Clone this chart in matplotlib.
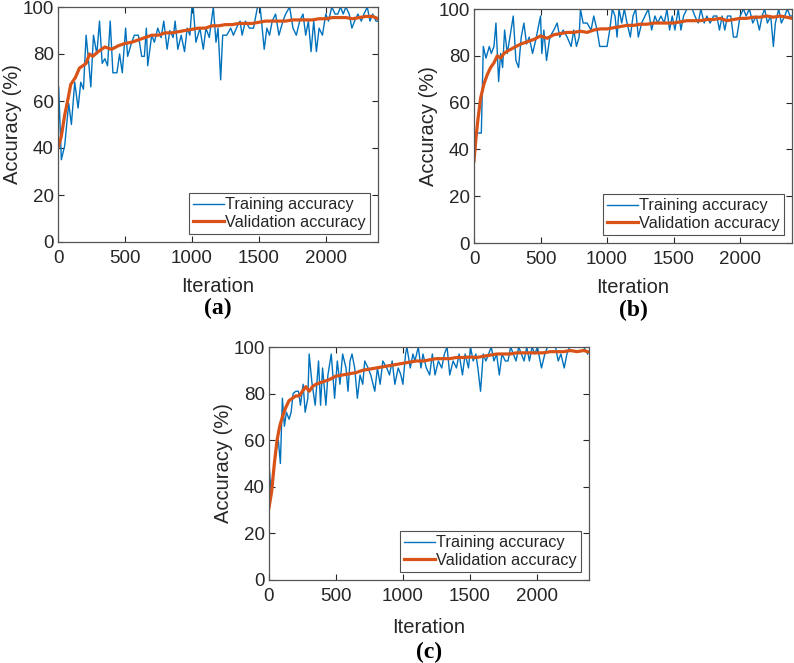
import matplotlib
matplotlib.use("Agg")
import matplotlib.pyplot as plt

# ---------------- data ----------------
xticks = [0, 500, 1000, 1500, 2000]
yticks = [0, 20, 40, 60, 80, 100]
x_max = 2390

# (a)
train_a_iter = [0, 5, 25, 50, 80, 100, 125, 150, 170, 190, 210, 230, 245, 265, 290, 310, 330, 350, 370,
                390, 410, 440, 460, 480, 505, 520, 545, 570, 600, 625, 645, 660, 670, 700, 720, 745,
                770, 790, 815, 835, 860, 875, 895, 920, 945, 965, 985, 1000, 1010, 1030, 1060, 1085,
                1105, 1130, 1160, 1180, 1195, 1215, 1230, 1260, 1290, 1310, 1340, 1360, 1375, 1400,
                1430, 1460, 1490, 1510, 1540, 1560, 1580, 1600, 1625, 1650, 1680, 1700, 1730, 1755,
                1780, 1805, 1830, 1850, 1870, 1890, 1910, 1930, 1950, 1975, 2000, 2020, 2045, 2070,
                2090, 2110, 2130, 2150, 2175, 2195, 2215, 2240, 2265, 2285, 2310, 2330, 2350, 2375, 2390]
train_a_acc = [35, 66, 35, 41, 59, 50, 68, 57, 68, 65, 88, 76, 66, 88, 80, 94, 76, 78, 75,
               94, 72, 72, 80, 72, 91, 79, 84, 88, 88, 79, 79, 91, 75, 88, 85, 91,
               87, 94, 82, 90, 87, 94, 82, 88, 81, 91, 88, 100, 100, 85, 91, 82,
               91, 87, 100, 85, 91, 69, 88, 88, 91, 88, 92, 94, 88, 94,
               91, 91, 100, 100, 82, 91, 88, 94, 97, 88, 94, 97, 100, 91,
               88, 94, 97, 88, 94, 81, 94, 81, 91, 88, 97, 94, 100, 97,
               97, 100, 97, 100, 97, 91, 94, 97, 94, 97, 100, 94, 97, 94, 94]
val_a_iter = [0, 25, 50, 75, 95, 130, 160, 210, 235, 260, 300, 350, 400, 450, 500, 550, 600, 650, 700,
              750, 800, 850, 900, 950, 1000, 1050, 1100, 1150, 1200, 1250, 1300, 1350, 1400, 1450,
              1500, 1550, 1600, 1650, 1700, 1750, 1800, 1850, 1900, 1950, 2000, 2050, 2100, 2150,
              2200, 2250, 2300, 2350, 2390]
val_a_acc = [40, 45, 54, 61, 67, 70, 74, 76, 80, 79, 81, 83, 82, 83.5, 84.5, 85, 86, 87, 88,
             88, 89, 89, 89.5, 90, 90.5, 91, 91, 92, 92, 92.5, 92.5, 93, 93, 93,
             93.5, 94, 94, 94, 94, 94.5, 94.5, 94.5, 94.5, 95, 95, 95.5, 95.5, 95.5,
             95, 95.5, 96, 96, 95]

# (b)
train_b_iter = [0, 10, 25, 55, 70, 90, 115, 130, 150, 165, 185, 200, 215, 230, 250, 270, 295, 315, 335,
                355, 375, 395, 415, 440, 465, 500, 510, 525, 545, 570, 600, 625, 645, 670, 700, 730,
                750, 770, 790, 800, 820, 850, 880, 900, 925, 945, 975, 1000, 1020, 1040, 1060, 1075,
                1090, 1110, 1130, 1150, 1175, 1195, 1215, 1235, 1260, 1285, 1310, 1335, 1360, 1380,
                1405, 1430, 1450, 1470, 1490, 1510, 1535, 1555, 1575, 1600, 1640, 1660, 1685, 1705,
                1730, 1750, 1775, 1800, 1825, 1845, 1865, 1885, 1905, 1930, 1950, 1975, 2000, 2025,
                2045, 2070, 2095, 2120, 2145, 2165, 2185, 2205, 2230, 2250, 2265, 2290, 2310, 2335,
                2355, 2375, 2390]
train_b_acc = [35, 44, 47, 47, 84, 79, 84, 81, 84, 94, 69, 81, 75, 91, 81, 88, 97, 78, 75,
               88, 94, 85, 88, 81, 87, 97, 81, 91, 78, 88, 91, 94, 88, 91, 88, 84,
               91, 84, 88, 100, 94, 94, 91, 97, 91, 84, 84, 84, 91, 100, 97, 88,
               100, 94, 100, 94, 88, 97, 100, 88, 94, 97, 100, 91, 97, 94,
               97, 94, 100, 91, 97, 91, 100, 91, 97, 100, 100, 97, 94, 100,
               94, 97, 94, 97, 97, 91, 97, 91, 97, 97, 88, 88, 97, 100,
               97, 100, 94, 97, 91, 97, 100, 94, 97, 84, 94, 100, 94, 97,
               100, 97, 97]
val_b_iter = [0, 15, 30, 50, 75, 100, 125, 150, 175, 200, 225, 250, 300, 350, 400, 450, 500, 550, 600,
              650, 700, 750, 800, 850, 900, 950, 1000, 1050, 1100, 1150, 1200, 1250, 1300, 1350,
              1400, 1450, 1500, 1550, 1600, 1650, 1700, 1750, 1800, 1850, 1900, 1950, 2000, 2050,
              2100, 2150, 2200, 2250, 2300, 2350, 2390]
val_b_acc = [35, 45, 53, 62, 68, 72, 75, 77, 80, 79, 81, 82, 83.5, 85, 86, 87, 88.5, 87.5, 89,
             89.5, 90, 90, 90.5, 90, 91, 91.5, 91.5, 92, 92.5, 93, 93, 93.5, 93.5, 94,
             94, 94, 94, 94.5, 95, 95, 95, 95.5, 95.5, 96, 95, 95.5, 96, 96,
             96.5, 96.5, 97, 96.5, 97, 96.5, 96]

# (c)
train_c_iter = [0, 15, 30, 50, 70, 85, 100, 115, 130, 150, 165, 180, 200, 220, 235, 255, 270, 290, 300,
                320, 345, 370, 385, 400, 425, 440, 465, 490, 510, 530, 550, 575, 590, 605, 620, 640,
                660, 680, 700, 715, 740, 760, 790, 810, 830, 850, 880, 900, 920, 940, 965, 985, 1000,
                1020, 1030, 1055, 1075, 1090, 1115, 1135, 1150, 1175, 1200, 1220, 1240, 1265, 1290,
                1310, 1330, 1350, 1375, 1400, 1420, 1445, 1465, 1490, 1505, 1525, 1545, 1560, 1580,
                1600, 1620, 1640, 1660, 1680, 1700, 1720, 1740, 1765, 1785, 1805, 1825, 1845, 1865,
                1885, 1905, 1925, 1945, 1965, 1985, 2005, 2035, 2060, 2080, 2110, 2140, 2160, 2180,
                2205, 2225, 2245, 2300, 2350, 2380]
train_c_acc = [50, 38, 45, 55, 60, 50, 78, 66, 72, 69, 72, 80, 81, 81, 75, 84, 72, 78, 97,
               85, 75, 94, 75, 91, 75, 88, 97, 78, 94, 84, 97, 91, 81, 94, 97, 91,
               78, 88, 84, 94, 91, 88, 81, 91, 84, 94, 91, 88, 94, 84, 91, 88, 84,
               97, 100, 91, 97, 94, 100, 91, 97, 91, 88, 97, 88, 94, 91,
               97, 100, 88, 94, 91, 97, 88, 97, 91, 100, 94, 97, 91, 81,
               97, 94, 97, 100, 94, 97, 88, 97, 94, 94, 100, 97, 94, 100,
               97, 94, 100, 94, 100, 97, 100, 91, 97, 100, 100, 100, 94, 97,
               91, 97, 100, 100, 100, 97]
val_c_iter = [0, 20, 40, 60, 80, 100, 125, 150, 175, 200, 225, 250, 275, 300, 325, 350, 400, 450, 500,
              550, 600, 650, 700, 750, 800, 850, 900, 950, 1000, 1050, 1100, 1150, 1200, 1250, 1300,
              1350, 1400, 1450, 1500, 1550, 1600, 1650, 1700, 1750, 1800, 1850, 1900, 1950, 2000,
              2050, 2100, 2150, 2200, 2250, 2300, 2350, 2380]
val_c_acc = [31, 38, 50, 60, 66, 70, 74, 77, 78, 79, 79, 81, 83, 81, 83, 84, 85, 86, 87.5,
             88, 88.5, 89, 90, 90.5, 91, 91.5, 92, 92.5, 93, 93.5, 94, 94, 94.5, 95, 95,
             95, 95.5, 95.5, 95.7, 95.5, 96, 96.5, 97, 97, 97, 97.5, 97.5, 97.5, 97.5,
             97.5, 98, 98, 98, 98.5, 98, 98.5, 98]

panels = [
    ("(a)", train_a_iter, train_a_acc, val_a_iter, val_a_acc),
    ("(b)", train_b_iter, train_b_acc, val_b_iter, val_b_acc),
    ("(c)", train_c_iter, train_c_acc, val_c_iter, val_c_acc),
]

# ---------------- styling ----------------
plt.rcParams['font.family'] = ['Liberation Sans', 'DejaVu Sans']
text_col = '#262626'
spine_col = '#555555'
blue = '#0072BD'
orange = '#D95319'

fig = plt.figure(figsize=(7.94, 6.63), dpi=100)
W, H = 794.0, 663.0
# axes boxes in pixels: left, top, right, bottom
boxes = [(58, 7, 378, 242), (474, 9, 792, 243), (269, 347, 589, 580)]
cap_offsets = [66, 67, 72]
xlab_pads = [7, 7, 9]

for (cap, ti, ta, vi, va), (l, t, r, b), co, xp in zip(panels, boxes, cap_offsets, xlab_pads):
    ax = fig.add_axes([l / W, 1 - b / H, (r - l) / W, (b - t) / H])
    ax.plot(ti, ta, color=blue, lw=1.0, label='Training accuracy')
    ax.plot(vi, va, color=orange, lw=2.3, label='Validation accuracy')
    ax.set_xlim(0, x_max)
    ax.set_ylim(0, 100)
    ax.set_xticks(xticks)
    ax.set_yticks(yticks)
    ax.tick_params(direction='in', length=4, width=0.8, top=True, right=True,
                   labelsize=13.5, colors=text_col)
    ax.tick_params(axis='x', pad=6)
    ax.tick_params(axis='y', pad=3)
    for s in ax.spines.values():
        s.set_color(spine_col)
        s.set_linewidth(0.9)
    ax.set_xlabel('Iteration', fontsize=14.5, color=text_col, labelpad=xp)
    ax.set_ylabel('Accuracy (%)', fontsize=14.5, color=text_col, labelpad=0)
    leg = ax.legend(loc='lower right', fontsize=11.7, frameon=True, fancybox=False,
                    edgecolor='#262626', handlelength=1.9, handletextpad=0.1,
                    borderpad=0.25, labelspacing=0.15, borderaxespad=0.5)
    leg.get_frame().set_linewidth(0.8)
    for txt in leg.get_texts():
        txt.set_color(text_col)
    fig.text(((l + r) / 2) / W, 1 - (b + co) / H, cap, ha='center', va='center',
             fontsize=17, fontweight='bold', family='Liberation Serif', color='black')

fig.savefig('out.png', dpi=100)
